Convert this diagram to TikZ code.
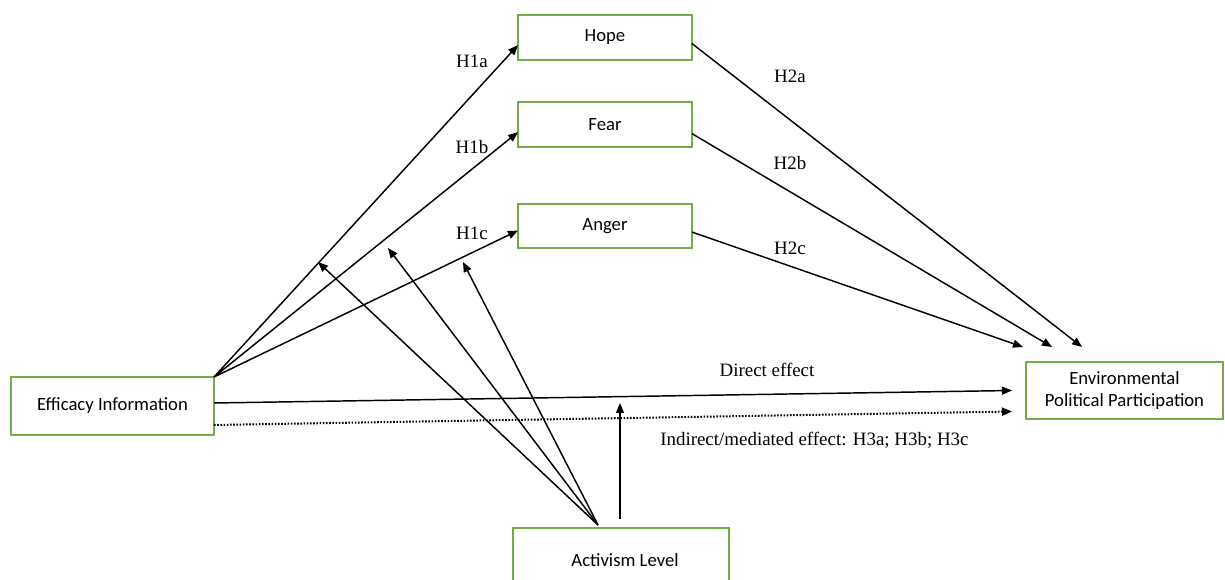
\documentclass[tikz,border=0pt]{standalone}
\usepackage{fontspec}
\setmainfont{Liberation Serif}
\newfontfamily\boxfont{Carlito}
\usetikzlibrary{arrows.meta,calc}
\definecolor{boxgreen}{RGB}{112,173,71}

\begin{document}
\begin{tikzpicture}[x=0.75pt,y=0.75pt,yscale=-1,xscale=1,
  varbox/.style={draw=boxgreen,line width=1.4pt,fill=white,inner sep=0pt,outer sep=0pt,align=center,font=\boxfont\fontsize{14}{17}\selectfont},
  arr/.style={line width=1.1pt,-{Triangle[length=7.5pt,width=6pt]}},
  hlabel/.style={font=\fontsize{14.2}{17}\selectfont,inner sep=0pt}]
\useasboundingbox (0,0) rectangle (1225,580);

%Shape: Rectangle [id:hope]
\node[varbox,minimum width=130.5pt,minimum height=33.75pt] (hope) at (605,37.5) {Hope};
%Shape: Rectangle [id:fear]
\node[varbox,minimum width=130.5pt,minimum height=33.75pt] (fear) at (605,124.5) {Fear};
%Shape: Rectangle [id:anger]
\node[varbox,minimum width=130.5pt,minimum height=33pt] (anger) at (605,226) {Anger};
%Shape: Rectangle [id:eff]
\node[varbox,minimum width=152.25pt,minimum height=43.5pt] (eff) at (112.5,406) {Efficacy Information};
%Shape: Rectangle [id:epp]
\node[varbox,minimum width=147.75pt,minimum height=42.75pt] (epp) at (1124.5,390.5) {Environmental\\Political Participation};
%Shape: Rectangle [id:act]
\node[varbox,minimum width=162pt,minimum height=48pt] (act) at (621,560) {\hspace*{6pt}Activism Level};

% arrow ends
\coordinate (ein-a) at ($(epp.north west)+(56,-15)$);
\coordinate (ein-b) at ($(epp.north west)+(26,-15)$);
\coordinate (ein-c) at ($(epp.north west)+(-3,-15)$);
\coordinate (hub) at ($(act.north)+(-23,-3)$);
\coordinate (mod-a) at (318,262);
\coordinate (mod-b) at (388,248);
\coordinate (mod-c) at (463,262);
\coordinate (mod-d) at (620,403);

%Arrows H1
\draw[arr] (eff.north east) -- (hope.185);
\draw[arr] (eff.north east) -- (fear.185);
\draw[arr] (eff.north east) -- (anger.183);
%Arrows H2
\draw[arr] (hope.-4) -- (ein-a);
\draw[arr] (fear.-6) -- (ein-b);
\draw[arr] (anger.-4) -- (ein-c);
%Direct and indirect
\draw[arr] ($(eff.east)+(0,-3)$) -- ($(epp.west)+(-14,0)$);
\draw[arr,line width=1.5pt,dash pattern=on 1.2pt off 1.2pt] ($(eff.east)+(0,19)$) -- ($(epp.west)+(-14,21)$);
%Moderation
\draw[arr] (hub) -- (mod-a);
\draw[arr] (hub) -- (mod-b);
\draw[arr] (hub) -- (mod-c);
\draw[arr] ($(act.north)+(-1,-9)$) -- (mod-d);

% Text Node
\node[hlabel] (h1a) at (472,61) {H1a};
\node[hlabel] (h1b) at (472,147) {H1b};
\node[hlabel] (h1c) at (472,233) {H1c};
\node[hlabel] (h2a) at (790,76) {H2a};
\node[hlabel] (h2b) at (790,163) {H2b};
\node[hlabel] (h2c) at (790,248) {H2c};
\node[hlabel] (direct) at (767,370) {Direct effect};
\node[hlabel,anchor=west] (indirect) at (660,440) {Indirect/mediated effect: H3a; H3b; H3c};

\end{tikzpicture}
\end{document}
